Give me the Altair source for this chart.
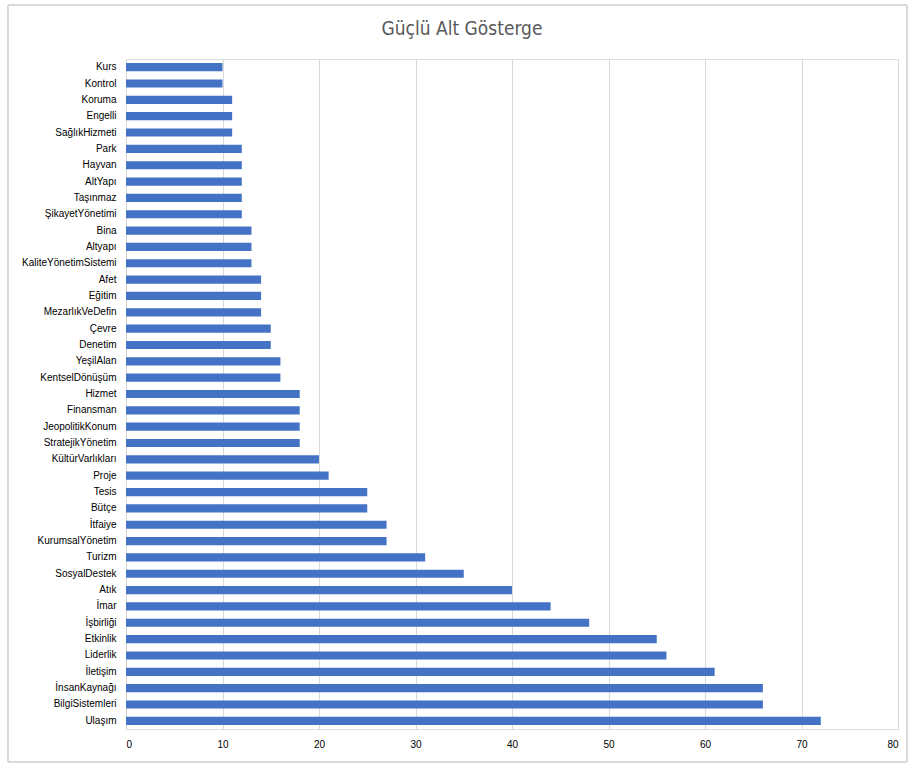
import altair as alt
import pandas as pd

# Sub-indicator names (top to bottom) and their counts
categories = [
    "Kurs", "Kontrol", "Koruma", "Engelli", "SağlıkHizmeti", "Park", "Hayvan",
    "AltYapı", "Taşınmaz", "ŞikayetYönetimi", "Bina", "Altyapı",
    "KaliteYönetimSistemi", "Afet", "Eğitim", "MezarlıkVeDefin", "Çevre",
    "Denetim", "YeşilAlan", "KentselDönüşüm", "Hizmet", "Finansman",
    "JeopolitikKonum", "StratejikYönetim", "KültürVarlıkları", "Proje", "Tesis",
    "Bütçe", "İtfaiye", "KurumsalYönetim", "Turizm", "SosyalDestek", "Atık",
    "İmar", "İşbirliği", "Etkinlik", "Liderlik", "İletişim", "İnsanKaynağı",
    "BilgiSistemleri", "Ulaşım",
]
values = [
    10, 10, 11, 11, 11, 12, 12,
    12, 12, 12, 13, 13,
    13, 14, 14, 14, 15,
    15, 16, 16, 18, 18,
    18, 18, 20, 21, 25,
    25, 27, 27, 31, 35, 40,
    44, 48, 55, 56, 61, 66,
    66, 72,
]
x_ticks = [0, 10, 20, 30, 40, 50, 60, 70, 80]

df = pd.DataFrame({"gosterge": categories, "sayi": values})

FONT = "Liberation Sans Narrow, DejaVu Sans Condensed, Open Sans, sans-serif"
TEXT_GREY = "#595959"
GRID_GREY = "#D9D9D9"

W, H = 772, 670

bars = alt.Chart(df).mark_bar(color="#4472C4").encode(
    x=alt.X(
        "sayi:Q",
        scale=alt.Scale(domain=[0, 80], nice=False),
        axis=alt.Axis(
            values=x_ticks, title=None, domain=False, ticks=False,
            grid=True, gridColor=GRID_GREY, labelPadding=10,
        ),
    ),
    y=alt.Y(
        "gosterge:N",
        sort=categories,
        scale=alt.Scale(paddingInner=0.5, paddingOuter=0.25),
        axis=alt.Axis(
            title=None, ticks=False, domain=True, domainColor=GRID_GREY,
            labelPadding=10, labelLimit=200,
        ),
    ),
)

# light frame around the whole chart area
frame = alt.Chart(df).mark_rect(
    fill=None, stroke="#D9D9D9", strokeWidth=1
).encode(
    x=alt.value(-118), x2=alt.value(W + 9),
    y=alt.value(-54), y2=alt.value(H + 33),
)

chart = alt.layer(frame, bars).properties(
    width=W,
    height=H,
    # the frame reaches 54px above the plot, so the title is pulled back down into it
    title=alt.Title(
        "Güçlü Alt Gösterge", fontSize=19, font=FONT, color=TEXT_GREY,
        fontWeight="normal", anchor="middle", frame="group", dx=-50, offset=-34,
    ),
    padding={"left": 126, "top": 59, "right": 11, "bottom": 35},
    autosize=alt.AutoSizeParams(type="none"),
).configure_view(
    stroke=None
).configure_axis(
    labelFont=FONT, labelFontSize=12, labelColor=TEXT_GREY,
).configure(background="white")

chart.save("out.html", embed_options={"renderer": "svg", "actions": False})
